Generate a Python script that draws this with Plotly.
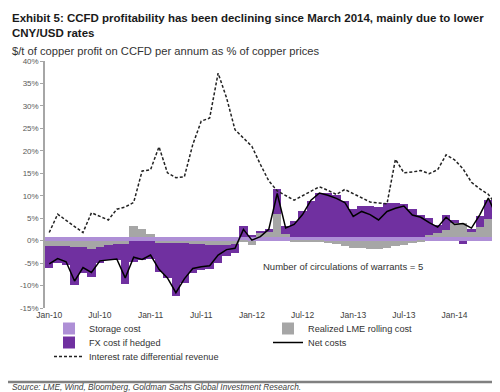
import plotly.graph_objects as go

# ---------------- data ----------------
month_names = ["Jan", "Feb", "Mar", "Apr", "May", "Jun", "Jul", "Aug", "Sep", "Oct", "Nov", "Dec"]
months = [f"{m}-{y:02d}" for y in range(10, 15) for m in month_names][:54]  # Jan-10 .. Jun-14

tick_labels = ["Jan-10", "Jul-10", "Jan-11", "Jul-11", "Jan-12", "Jul-12", "Jan-13", "Jul-13", "Jan-14"]
y_tick_vals = [-15, -10, -5, 0, 5, 10, 15, 20, 25, 30, 35, 40]
y_tick_text = ["-15%", "-10%", "-5%", "0%", "5%", "10%", "15%", "20%", "25%", "30%", "35%", "40%"]

storage_cost = [0.7, 0.7, 0.7, 0.7, 0.7, 0.7, 0.7, 0.7, 0.7, 0.7,
                0.7, 0.7, 0.7, 0.7, 0.7, 0.7, 0.7, 0.7, 0.7, 0.7,
                0.7, 0.7, 0.9, 0.9, 0.9, 0.9, 0.9, 0.9, 0.9, 0.9,
                0.9, 0.9, 0.9, 0.9, 0.9, 0.9, 0.9, 0.9, 0.9, 0.9,
                0.9, 0.9, 0.9, 0.9, 0.9, 0.9, 0.9, 0.9, 0.9, 0.9,
                0.9, 0.9, 0.9, 0.9]

lme_rolling_cost = [-1.2, -1.2, -1.3, -1.5, -1.5, -1.9, -1.5, -1.0, -0.8, -0.8,
                    2.5, 1.9, 0.8, -0.5, -0.5, -0.6, -0.6, -0.7, -0.8, -0.9,
                    -1.0, -1.0, -0.8, -0.3, -1.0, 0.8, 1.2, 5.0, 0.5, -0.3,
                    -0.3, -0.2, -0.3, -0.5, -0.8, -1.2, -1.6, -1.6, -1.8, -1.8,
                    -1.6, -1.2, -1.0, -0.6, -0.4, 0.3, 0.8, 1.5, 3.0, 3.0,
                    1.1, 2.2, 3.9, 3.5]

fx_cost_hedged = [-4.8, -3.7, -4.1, -8.4, -5.6, -6.3, -3.4, -3.4, -3.6, -8.8,
                  -4.8, -4.4, -4.0, -6.5, -7.9, -11.7, -8.9, -6.6, -5.7, -5.5,
                  -3.9, -2.4, -2.0, 2.4, 0.3, 0.3, 0.4, 5.5, 1.9, 3.5,
                  5.7, 8.0, 9.8, 9.8, 9.3, 8.0, 6.1, 6.8, 6.8, 6.6,
                  7.5, 7.5, 7.3, 6.1, 4.9, 3.9, 1.8, 3.4, 0.8, -0.8,
                  0.5, 2.4, 4.2, 1.1]

net_costs = [-5.2, -4.0, -4.7, -9.0, -6.0, -7.1, -4.5, -4.3, -4.1, -8.3,
             -3.7, -4.2, -3.2, -6.4, -8.3, -11.6, -8.5, -6.2, -5.8, -5.6,
             -3.2, -2.0, -1.7, 2.5, 0.1, 0.9, 2.5, 10.5, 2.8, 3.6,
             5.8, 9.0, 10.6, 10.1, 9.4, 8.5, 5.4, 6.5, 5.8, 4.6,
             6.5, 7.2, 7.7, 5.7, 5.2, 4.0, 3.0, 5.2, 3.6, 3.8,
             2.8, 5.8, 9.5, 5.3]

ir_diff_revenue = [1.8, 5.9, 4.5, 3.2, 1.8, 6.2, 5.4, 4.6, 7.0, 7.5,
                   8.5, 15.5, 15.8, 20.9, 15.1, 14.0, 14.2, 21.4, 26.6, 27.3,
                   37.3, 31.8, 24.7, 22.9, 21.0, 17.0, 13.3, 11.1, 10.0, 9.0,
                   10.0, 11.0, 12.0, 11.2, 10.3, 11.4, 10.5, 9.5, 8.6, 8.4,
                   8.2, 18.1, 15.1, 15.3, 15.6, 14.9, 15.8, 19.1, 18.0, 16.0,
                   13.0, 11.5, 10.3, 7.8]

# ---------------- styling ----------------
FONT = "Arial, 'Liberation Sans', sans-serif"
W, H = 500, 392
ML, MR, MT, MB = 37, 7, 53, 92
PW, PH = W - ML - MR, H - MT - MB


def px_x(x):
    return (x - ML) / PW


def px_y(y):
    return (H - MB - y) / PH


fig = go.Figure()
fig.add_trace(go.Bar(x=months, y=storage_cost, name="Storage cost", legend="legend",
                     marker=dict(color="#ae8fd6", line=dict(width=0))))
fig.add_trace(go.Bar(x=months, y=lme_rolling_cost, name="Realized LME rolling cost", legend="legend",
                     marker=dict(color="#a6a6a6", line=dict(width=0))))
fig.add_trace(go.Bar(x=months, y=fx_cost_hedged, name="FX cost if hedged", legend="legend2",
                     marker=dict(color="#7030a0", line=dict(width=0))))
fig.add_trace(go.Scatter(x=months, y=net_costs, name="Net costs", mode="lines", legend="legend2",
                         line=dict(color="#000000", width=1.5)))
fig.add_trace(go.Scatter(x=months, y=ir_diff_revenue, name="Interest rate differential revenue",
                         mode="lines", legend="legend3",
                         line=dict(color="#222222", width=1.5, dash="3px,2px")))

legend_common = dict(orientation="h", x=px_x(41), xanchor="left", yanchor="top",
                     entrywidth=174, entrywidthmode="pixels",
                     font=dict(size=9.2, color="#333333", family=FONT),
                     bgcolor="rgba(0,0,0,0)", traceorder="normal")

fig.update_layout(
    width=W, height=H,
    margin=dict(l=ML, r=MR, t=MT, b=MB),
    paper_bgcolor="white", plot_bgcolor="white",
    barmode="relative", bargap=0,
    font=dict(family=FONT, size=9, color="#333333"),
    showlegend=True,
    legend=dict(legend_common, y=px_y(306)),
    legend2=dict(legend_common, y=px_y(320)),
    legend3=dict(legend_common, y=px_y(334)),
    xaxis=dict(type="category", range=[-0.5, 53.5], tickmode="array", tickvals=tick_labels,
               ticktext=tick_labels, showgrid=False, showline=False, ticks="",
               tickfont=dict(size=8.5, color="#404040"), zeroline=False, tickangle=0),
    yaxis=dict(range=[-15, 40], tickmode="array", tickvals=y_tick_vals, ticktext=y_tick_text,
               showgrid=False, showline=True, linecolor="#a6a6a6", linewidth=1.5,
               ticks="outside", ticklen=3, tickcolor="#a6a6a6",
               tickfont=dict(size=8, color="#595959"), zeroline=True,
               zerolinecolor="#bfbfbf", zerolinewidth=1),
)

fig.add_annotation(xref="paper", yref="paper", x=px_x(2), y=px_y(2), xanchor="left", yanchor="top",
                   text="<b>Exhibit 5: CCFD profitability has been declining since March 2014, mainly due to lower"
                        "<br>CNY/USD rates</b>",
                   showarrow=False, align="left", font=dict(size=11.5, color="#1a1a1a", family=FONT))
fig.add_annotation(xref="paper", yref="paper", x=px_x(2), y=px_y(43), xanchor="left", yanchor="middle",
                   text="$/t of copper profit on CCFD per annum as % of copper prices",
                   showarrow=False, align="left", font=dict(size=11.2, color="#333333", family=FONT))
fig.add_annotation(xref="paper", yref="paper", x=px_x(253), y=px_y(258), xanchor="left", yanchor="middle",
                   text="Number of circulations of warrants = 5",
                   showarrow=False, font=dict(size=9.5, color="#333333", family=FONT))
fig.add_annotation(xref="paper", yref="paper", x=px_x(2), y=px_y(386), xanchor="left", yanchor="bottom",
                   text="<i>Source: LME, Wind, Bloomberg, Goldman Sachs Global Investment Research.</i>",
                   showarrow=False, font=dict(size=8.3, color="#404040", family=FONT))
fig.add_shape(type="line", xref="paper", yref="paper", x0=px_x(0), x1=px_x(500),
              y0=px_y(374), y1=px_y(374), line=dict(color="#808080", width=2.5))

fig.write_html("out.html")
